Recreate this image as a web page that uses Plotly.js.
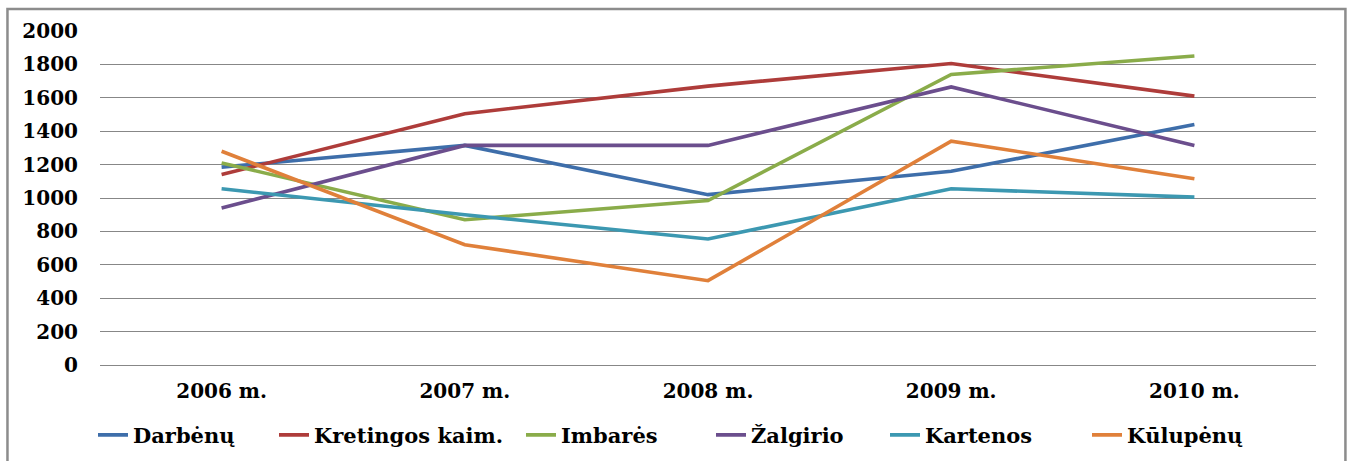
<!DOCTYPE html>
<html>
<head>
<meta charset="utf-8">
<script src="https://cdn.plot.ly/plotly-3.0.1.min.js"></script>
<style>html,body{margin:0;padding:0;background:#fff;}#chart{width:1350px;height:461px;}</style>
</head>
<body>
<div id="chart"></div>
<script>
var categories = ["2006 m.", "2007 m.", "2008 m.", "2009 m.", "2010 m."];
var darbenu   = [1185, 1315, 1020, 1160, 1440];
var kretingos = [1140, 1505, 1670, 1805, 1610];
var imbares   = [1210, 870, 985, 1740, 1850];
var zalgirio  = [940, 1315, 1315, 1665, 1315];
var kartenos  = [1055, 900, 755, 1055, 1005];
var kulupenu  = [1280, 720, 505, 1340, 1115];
var seriesNames = ["Darbėnų", "Kretingos kaim.", "Imbarės", "Žalgirio", "Kartenos", "Kūlupėnų"];
var seriesColors = ["#3e6eaa", "#ae3c3a", "#8aac4a", "#6b4e8d", "#3c98b1", "#e0803a"];
var seriesValues = [darbenu, kretingos, imbares, zalgirio, kartenos, kulupenu];

// left pixel of each legend entry (layout positions)
var legendLeft = [93, 274, 521, 711, 885, 1087];
var legendFont = {family: "DejaVu Serif", size: 21, color: "#000", weight: "bold"};

var traces = seriesValues.map(function (vals, i) {
  return {
    type: "scatter",
    mode: "lines",
    x: categories,
    y: vals,
    name: seriesNames[i],
    legend: i === 0 ? "legend" : "legend" + (i + 1),
    line: {color: seriesColors[i], width: 3.6},
    hoverinfo: "skip"
  };
});

var layout = {
  width: 1350,
  height: 461,
  margin: {l: 100, r: 34, t: 31, b: 96},
  paper_bgcolor: "#ffffff",
  plot_bgcolor: "#ffffff",
  showlegend: true,
  xaxis: {
    type: "category",
    range: [-0.5, 4.5],
    showgrid: false,
    zeroline: false,
    showline: false,
    ticks: "",
    ticklabelstandoff: 12,
    tickfont: {family: "DejaVu Serif", size: 20, color: "#000", weight: "bold"},
    fixedrange: true
  },
  yaxis: {
    range: [0, 2000],
    dtick: 200,
    tick0: 0,
    showgrid: true,
    gridcolor: "#878787",
    gridwidth: 1,
    zeroline: true,
    zerolinecolor: "#878787",
    zerolinewidth: 1,
    showline: false,
    ticks: "",
    ticklabelstandoff: 21,
    tickfont: {family: "DejaVu Serif", size: 20, color: "#000", weight: "bold"},
    fixedrange: true
  },
  shapes: [{
    type: "rect",
    xref: "paper", yref: "paper",
    x0: -0.0761, x1: 1.0242, y0: -0.30, y1: 1.0659,
    line: {color: "#8c8c8c", width: 2.5},
    fillcolor: "rgba(0,0,0,0)",
    layer: "below"
  }]
};

legendLeft.forEach(function (px, i) {
  var key = i === 0 ? "legend" : "legend" + (i + 1);
  layout[key] = {
    orientation: "h",
    xref: "container", yref: "container",
    x: px / 1350, xanchor: "left",
    y: 0.056, yanchor: "middle",
    font: legendFont,
    bgcolor: "rgba(0,0,0,0)",
    itemclick: false, itemdoubleclick: false
  };
});

Plotly.newPlot("chart", traces, layout, {displayModeBar: false, staticPlot: true});
</script>
</body>
</html>
